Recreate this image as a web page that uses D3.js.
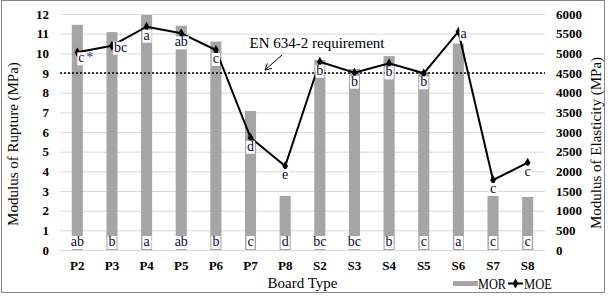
<!DOCTYPE html>
<html>
<head>
<meta charset="utf-8">
<script src="https://cdn.jsdelivr.net/npm/d3@7"></script>
<style>
  body { margin: 0; background: #fff; }
  text { font-family: "Liberation Serif", "Times New Roman", serif; }
  .tick text { font-weight: bold; font-size: 13px; fill: #000; }
  .grid line { stroke: #d9d9d9; }
</style>
</head>
<body>
<svg id="chart"></svg>
<script>
//data
const boards = ['P2', 'P3', 'P4', 'P5', 'P6', 'P7', 'P8', 'S2', 'S3', 'S4', 'S5', 'S6', 'S7', 'S8'];
const mor = [11.45, 11.08, 11.95, 11.4, 10.6, 7.07, 2.75, 9.66, 9.2, 9.86, 9.05, 10.5, 2.75, 2.7];
const moe = [5026, 5194, 5677, 5509, 5085, 2855, 2136, 4788, 4508, 4745, 4492, 5550, 1780, 2220];
const morLetters = ['ab', 'b', 'a', 'ab', 'b', 'c', 'd', 'bc', 'bc', 'b', 'c', 'a', 'c', 'c'];
const moeLetters = ['c', 'bc', 'a', 'ab', 'c', 'd', 'e', 'b', 'b', 'b', 'b', 'a', 'c', 'c'];
const moeLetterSide = ['belowright', 'right', 'below', 'below', 'below', 'below', 'below', 'below', 'below', 'below', 'below', 'right', 'below', 'below'];
const morTicks = d3.range(0, 13);
const moeTicks = d3.range(0, 6001, 500);
const requirement = 9;

//margin convention
const W = 611, H = 299;
const margin = { top: 14, left: 60, bottom: 49, right: 66 };
const width = W - margin.left - margin.right;
const height = H - margin.top - margin.bottom;

const svg = d3.select('#chart')
    .attr('width', W)
    .attr('height', H);

//outer border
svg.append('rect')
  .attr('x', 1.5).attr('y', 0.5)
  .attr('width', 603).attr('height', 292)
  .attr('fill', 'none')
  .attr('stroke', '#868686');

const g = svg.append('g')
  .attr('transform', 'translate(' + margin.left + ',' + margin.top + ')');

//scales
const xScale = d3.scaleBand().domain(boards).range([0, width]);
const yScale = d3.scaleLinear().domain([0, 12]).range([height, 0]);
const y2Scale = d3.scaleLinear().domain([0, 6000]).range([height, 0]);
const cx = d => xScale(d) + xScale.bandwidth() / 2;

//grid
g.append('g')
  .attr('class', 'grid')
  .selectAll('line')
  .data(morTicks)
  .enter()
  .append('line')
    .attr('x1', 0).attr('x2', width)
    .attr('y1', d => yScale(d) + 0.5).attr('y2', d => yScale(d) + 0.5);

//axes
const yAxis = g.append('g')
  .call(d3.axisLeft(yScale).tickValues(morTicks).tickSize(0).tickPadding(11));
yAxis.select('.domain').remove();

const y2Axis = g.append('g')
  .attr('transform', 'translate(' + width + ',0)')
  .call(d3.axisRight(y2Scale).tickValues(moeTicks).tickFormat(d3.format('d')).tickSize(0).tickPadding(11));
y2Axis.select('.domain').remove();

const xAxis = g.append('g')
  .attr('transform', 'translate(0,' + height + ')')
  .call(d3.axisBottom(xScale).tickSize(0).tickPadding(11));
xAxis.select('.domain').remove();

//bars
const barW = xScale.bandwidth() * 0.32;
g.append('g')
  .selectAll('rect')
  .data(boards)
  .enter()
  .append('rect')
    .attr('x', d => cx(d) - barW / 2)
    .attr('y', (d, i) => yScale(mor[i]))
    .attr('width', barW)
    .attr('height', (d, i) => height - yScale(mor[i]))
    .attr('fill', '#a5a5a5');

//requirement line
g.append('line')
  .attr('x1', 0).attr('x2', width)
  .attr('y1', yScale(requirement)).attr('y2', yScale(requirement))
  .attr('stroke', '#000')
  .attr('stroke-width', 1.6)
  .attr('stroke-dasharray', '2,2');

//MOE line
const line = d3.line()
  .x((d, i) => cx(boards[i]))
  .y(d => y2Scale(d));

g.append('path')
  .datum(moe)
  .attr('d', line)
  .attr('fill', 'none')
  .attr('stroke', '#000')
  .attr('stroke-width', 2);

const diamond = d3.symbol().type(d3.symbolDiamond).size(28);
g.append('g')
  .selectAll('path')
  .data(moe)
  .enter()
  .append('path')
    .attr('d', diamond)
    .attr('transform', (d, i) => 'translate(' + cx(boards[i]) + ',' + y2Scale(d) + ')')
    .attr('fill', '#000');

//letter labels with white boxes
function boxLabel(parent, x, y, txt, anchor) {
  const lg = parent.append('g');
  const r = lg.append('rect').attr('fill', '#fff');
  const t = lg.append('text')
    .attr('x', x).attr('y', y)
    .attr('text-anchor', anchor)
    .style('font-size', '14px')
    .attr('fill', '#0b0b3a')
    .text(txt);
  const b = t.node().getBBox();
  r.attr('x', b.x - 1).attr('y', b.y + 2).attr('width', b.width + 2).attr('height', b.height - 2);
  return lg;
}

const morLab = g.append('g');
boards.forEach((d, i) => boxLabel(morLab, cx(d), height - 4, morLetters[i], 'middle'));

const moeLab = g.append('g');
moe.forEach((v, i) => {
  const x = cx(boards[i]), y = y2Scale(v);
  const side = moeLetterSide[i];
  if (side === 'below') boxLabel(moeLab, x, y + 13, moeLetters[i], 'middle');
  else if (side === 'right') boxLabel(moeLab, x + 2, y + 6, moeLetters[i], 'start');
  else {
    boxLabel(moeLab, x + 1, y + 10, moeLetters[i], 'start');
    moeLab.append('text')
      .attr('x', x + 9).attr('y', y + 10)
      .style('font-size', '14px')
      .attr('fill', '#1a3aa0')
      .text('*');
  }
});

//requirement annotation
g.append('text')
  .attr('x', 257).attr('y', 34)
  .attr('text-anchor', 'middle')
  .style('font-size', '15px')
  .text('EN 634-2 requirement');

const ax1 = 222, ay1 = 41, ax2 = 205, ay2 = 56;
g.append('line')
  .attr('x1', ax1).attr('y1', ay1).attr('x2', ax2).attr('y2', ay2)
  .attr('stroke', '#000').attr('stroke-width', 1);
const ang = Math.atan2(ay1 - ay2, ax1 - ax2);
[0.5, -0.5].forEach(a => {
  g.append('line')
    .attr('x1', ax2).attr('y1', ay2)
    .attr('x2', ax2 + 7 * Math.cos(ang + a)).attr('y2', ay2 + 7 * Math.sin(ang + a))
    .attr('stroke', '#000').attr('stroke-width', 1);
});

//axis titles
svg.append('text')
  .attr('transform', 'translate(18,144) rotate(-90)')
  .attr('text-anchor', 'middle')
  .style('font-size', '15px')
  .text('Modulus of Rupture (MPa)');

svg.append('text')
  .attr('transform', 'translate(601,143) rotate(-90)')
  .attr('text-anchor', 'middle')
  .style('font-size', '15px')
  .text('Modulus of Elasticity (MPa)');

svg.append('text')
  .attr('x', margin.left + width / 2).attr('y', 288)
  .attr('text-anchor', 'middle')
  .style('font-size', '15px')
  .text('Board Type');

//legend
const leg = svg.append('g');
leg.append('rect')
  .attr('x', 453).attr('y', 281).attr('width', 25).attr('height', 5)
  .attr('fill', '#a5a5a5');
leg.append('text').attr('x', 478).attr('y', 289)
  .attr('textLength', 28).attr('lengthAdjust', 'spacingAndGlyphs')
  .style('font-size', '15px').text('MOR');
leg.append('line')
  .attr('x1', 508).attr('x2', 523).attr('y1', 283.5).attr('y2', 283.5)
  .attr('stroke', '#000').attr('stroke-width', 2);
leg.append('path')
  .attr('d', diamond)
  .attr('transform', 'translate(515.5,283.5)');
leg.append('text').attr('x', 524).attr('y', 289)
  .attr('textLength', 28).attr('lengthAdjust', 'spacingAndGlyphs')
  .style('font-size', '15px').text('MOE');
</script>
</body>
</html>
